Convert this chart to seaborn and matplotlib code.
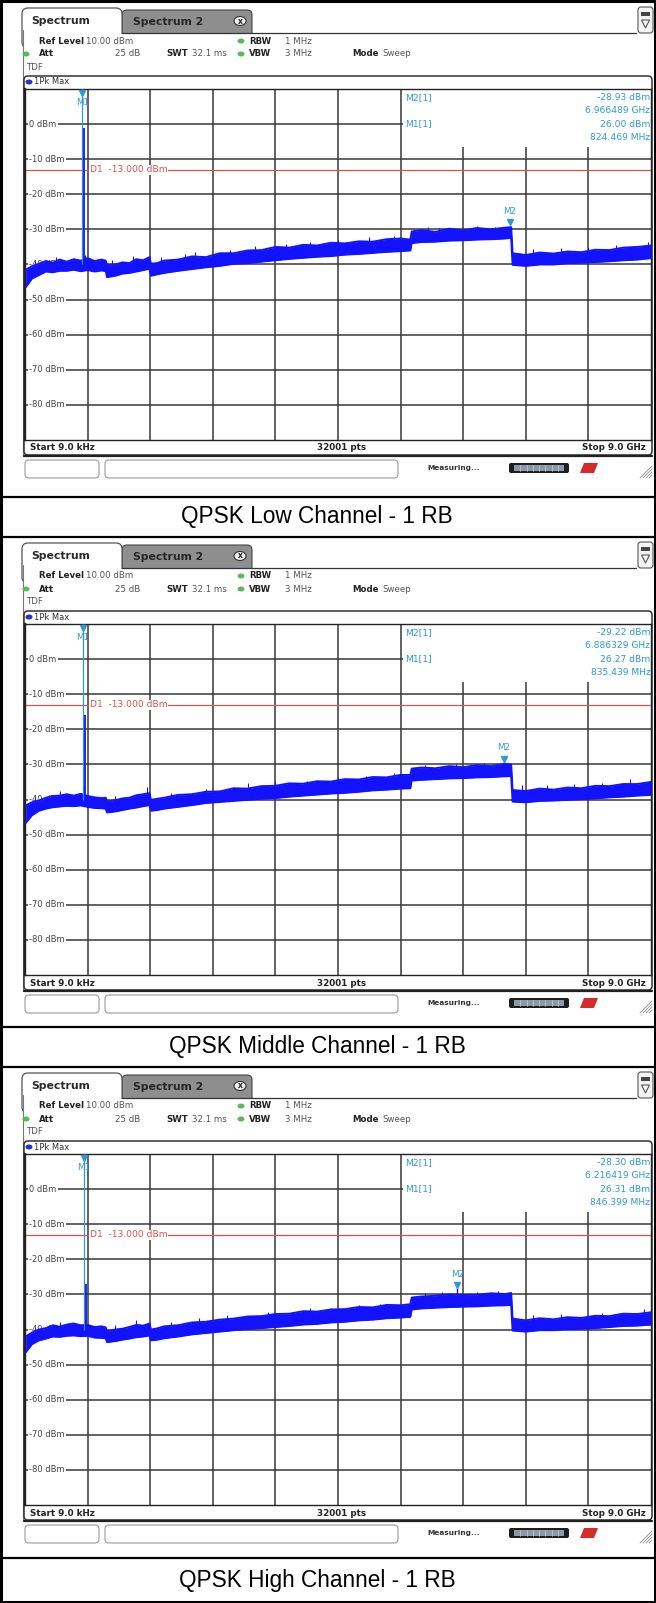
"""
Spurious emission screenshots (R&S style) for QPSK 1 RB, low / middle / high channel.
Saves out.png (656 x 1603 px).
"""
import matplotlib
matplotlib.use("Agg")
import matplotlib.pyplot as plt
from matplotlib.patches import FancyBboxPatch, Rectangle, Ellipse, Polygon
import pandas as pd
import seaborn as sns

sns.set_style("white")
plt.rcParams["font.family"] = ["DejaVu Sans"]

W, H = 656, 1603
PANEL_TOP = [0, 535, 1065]                        # origin of each screenshot
CAPTION_BAND = [(497, 537), (1027, 1067), (1558, 1602)]
GRAT_L, GRAT_R, GRAT_TOP, GRAT_BOT = 25, 651, 89, 440

TRACE_BLUE = "#1212ff"
MARKER_BLUE = "#2e9ad6"
LIMIT_RED = "#d9544f"
GRID = "#383838"

# ---- data ----
CAPTIONS = ["QPSK Low Channel - 1 RB", "QPSK Middle Channel - 1 RB", "QPSK High Channel - 1 RB"]
LEVEL_TICKS = [0, -10, -20, -30, -40, -50, -60, -70, -80]
D1_LIMIT = -13.0

FREQ_GHZ = [0.009, 0.1, 0.2, 0.3, 0.4, 0.5, 0.6, 0.7, 0.8, 0.9, 1.0, 1.1,
            1.16, 1.18, 1.3, 1.4, 1.5, 1.6, 1.7, 1.79, 1.81, 1.9, 2.0,
            2.2, 2.4, 2.6, 2.8, 3.0, 3.2, 3.4, 3.6, 3.8, 4.0, 4.2, 4.4, 4.6, 4.8, 5.0, 5.2, 5.4,
            5.54, 5.56, 5.7, 5.9, 6.1, 6.3, 6.5, 6.7, 6.9, 6.99, 7.01,
            7.2, 7.4, 7.6, 7.8, 8.0, 8.2, 8.4, 8.6, 8.8, 9.0]

LOW_HI = [-41.5, -40.5, -39.8, -39.0, -39.5, -38.6, -39.2, -38.5, -38.9, -38.2, -39.0, -38.6,
          -38.9, -40.2, -40.0, -39.4, -39.6, -38.5, -38.8, -37.9, -39.8, -39.6, -38.9,
          -38.6, -37.7, -37.9, -36.8, -36.8, -36.0, -35.9, -35.0, -35.2, -34.4, -34.6, -33.8, -34.0, -33.4, -33.5, -32.8, -32.6,
          -32.9, -30.6, -30.2, -30.7, -29.8, -30.3, -29.6, -30.0, -29.5, -29.4, -36.8,
          -37.3, -36.6, -36.9, -36.3, -36.5, -35.8, -35.9, -35.2, -35.0, -34.6]
LOW_LO = [-46.5, -44.0, -43.0, -42.0, -42.2, -41.8, -41.8, -41.5, -41.9, -41.6, -42.0, -41.7,
          -41.9, -43.6, -43.2, -42.6, -42.4, -42.0, -41.6, -41.2, -43.2, -42.8, -42.4,
          -41.8, -41.3, -40.8, -40.4, -39.8, -39.6, -39.2, -38.8, -38.4, -38.1, -37.8, -37.6, -37.2, -37.0, -36.7, -36.4, -36.2,
          -36.0, -33.9, -33.6, -33.5, -33.2, -33.1, -32.9, -32.8, -32.6, -32.4, -40.1,
          -40.4, -40.0, -40.0, -39.6, -39.5, -39.3, -39.1, -38.8, -38.6, -38.2]

MID_HI = [-41.7, -40.8, -40.3, -39.5, -39.0, -38.9, -38.5, -38.9, -38.4, -39.0, -39.4, -39.6,
          -39.5, -40.6, -40.2, -39.7, -39.5, -38.8, -38.5, -38.2, -40.1, -39.8, -39.5,
          -38.7, -38.5, -37.8, -37.7, -36.8, -36.9, -36.2, -36.1, -35.4, -35.5, -34.8, -34.9, -34.2, -34.3, -33.6, -33.7, -33.0,
          -33.0, -31.2, -30.9, -31.1, -30.5, -30.8, -30.2, -30.5, -29.9, -30.0, -37.3,
          -37.6, -36.9, -37.2, -36.6, -36.8, -36.1, -36.2, -35.6, -35.6, -35.0]
MID_LO = [-46.7, -44.5, -43.2, -42.6, -42.2, -42.0, -41.8, -41.9, -41.7, -42.1, -42.4, -42.5,
          -42.6, -43.7, -43.4, -43.0, -42.6, -42.3, -41.9, -41.6, -43.2, -43.0, -42.6,
          -42.1, -41.6, -41.0, -40.7, -40.4, -40.1, -39.8, -39.6, -39.2, -38.9, -38.6, -38.3, -38.1, -37.8, -37.4, -37.2, -36.9,
          -36.8, -34.6, -34.4, -34.2, -34.0, -33.9, -33.7, -33.6, -33.4, -33.3, -40.6,
          -40.8, -40.4, -40.3, -40.1, -39.9, -39.7, -39.4, -39.2, -38.9, -38.7]

HIGH_HI = [-42.0, -40.9, -40.0, -39.6, -38.8, -39.2, -38.6, -38.3, -38.8, -38.7, -39.3, -39.1,
           -39.4, -40.5, -40.0, -39.8, -39.3, -38.7, -38.9, -38.3, -40.0, -39.7, -39.1,
           -38.8, -38.0, -37.8, -37.2, -36.9, -36.3, -36.2, -35.6, -35.5, -34.8, -34.9, -34.3, -34.2, -33.6, -33.7, -33.0, -33.1,
           -32.8, -30.9, -30.6, -30.4, -30.0, -30.2, -30.1, -29.7, -29.9, -29.6, -36.9,
           -37.4, -36.8, -37.1, -36.5, -36.7, -36.1, -36.2, -35.5, -35.6, -35.1]
HIGH_LO = [-46.5, -44.2, -43.1, -42.6, -42.0, -42.1, -41.8, -41.7, -41.9, -41.8, -42.3, -42.4,
           -42.5, -43.6, -43.3, -42.9, -42.6, -42.2, -42.0, -41.7, -43.1, -42.9, -42.5,
           -42.0, -41.4, -41.0, -40.6, -40.2, -39.9, -39.6, -39.3, -39.0, -38.6, -38.4, -38.0, -37.8, -37.4, -37.2, -36.8, -36.6,
           -36.4, -34.3, -34.0, -33.8, -33.6, -33.5, -33.4, -33.2, -33.1, -33.0, -40.3,
           -40.6, -40.2, -40.2, -39.9, -39.8, -39.6, -39.3, -39.0, -38.9, -38.6]

# single noise spikes poking above the band
LOW_SPIKE_F = [0.15, 0.45, 0.86, 1.25, 1.55, 1.95, 2.3, 2.45, 2.95, 3.3, 3.75, 4.1,
               4.5, 4.95, 5.3, 5.8, 5.95, 6.5, 6.75, 7.3, 7.7, 8.1, 8.5, 8.95]
LOW_SPIKE_DB = [-39.0, -37.8, -37.2, -38.6, -37.5, -38.0, -36.9, -36.3, -35.8, -34.6, -34.2, -33.5,
                -33.0, -32.2, -31.9, -29.2, -29.6, -29.0, -29.3, -35.6, -35.2, -35.0, -34.5, -33.6]
MID_SPIKE_F = [0.15, 0.5, 0.85, 1.3, 1.75, 2.1, 2.6, 3.2, 3.6, 4.05, 4.5, 4.9,
               5.3, 5.75, 6.2, 6.6, 7.15, 7.5, 7.9, 8.3, 8.7]
MID_SPIKE_DB = [-39.3, -37.6, -36.0, -38.9, -36.4, -38.2, -36.9, -35.3, -35.0, -34.6, -33.6, -33.4,
                -32.4, -30.2, -29.8, -29.5, -36.0, -35.8, -35.6, -35.2, -34.3]
HIGH_SPIKE_F = [0.15, 0.5, 0.86, 1.3, 1.6, 2.1, 2.5, 2.9, 3.5, 4.1, 4.4, 4.8,
                5.1, 5.75, 6.0, 6.5, 6.8, 7.3, 7.7, 8.3, 8.9]
HIGH_SPIKE_DB = [-39.5, -37.8, -37.0, -38.7, -37.3, -38.0, -36.6, -35.9, -35.1, -33.9, -33.8, -33.0,
                 -32.6, -29.7, -29.4, -29.3, -29.1, -35.9, -35.5, -35.2, -34.2]

# markers
M1_GHZ = [0.824469, 0.835439, 0.846399]
M1_DBM = [26.00, 26.27, 26.31]
M1_VISIBLE_TOP = [-1.0, -16.0, -27.0]
M2_GHZ = [6.966489, 6.886329, 6.216419]
M2_DBM = [-28.93, -29.22, -28.30]
M1_TEXT = ["824.469 MHz", "835.439 MHz", "846.399 MHz"]
M2_TEXT = ["6.966489 GHz", "6.886329 GHz", "6.216419 GHz"]

PANELS = [
    (LOW_HI, LOW_LO, LOW_SPIKE_F, LOW_SPIKE_DB),
    (MID_HI, MID_LO, MID_SPIKE_F, MID_SPIKE_DB),
    (HIGH_HI, HIGH_LO, HIGH_SPIKE_F, HIGH_SPIKE_DB),
]


def txt(bg, x, y, s, bold=False, ha="left", color=None, size=6.2, **kw):
    bg.text(x, y, s, ha=ha, va="center", fontsize=size,
            fontweight="bold" if bold else "normal",
            color=color or ("#222222" if bold else "#555555"), zorder=6, **kw)


def dot(bg, x, y, color):
    bg.add_patch(Ellipse((x, y), 7, 5, fc=color, ec="none", zorder=6))


def draw_chrome(bg, oy):
    # tabs
    bg.add_patch(FancyBboxPatch((122, oy + 10), 130, 30, boxstyle="round,pad=0,rounding_size=5",
                                fc="#8e8e8e", ec="#444444", lw=0.8, zorder=1))
    bg.add_patch(FancyBboxPatch((22, oy + 8), 100, 40, boxstyle="round,pad=0,rounding_size=6",
                                fc="white", ec="#555555", lw=0.9, zorder=2))
    bg.add_patch(Rectangle((22.8, oy + 33.5), 240, 17, fc="white", ec="none", zorder=2.1))
    bg.plot([122, 636], [oy + 33, oy + 33], color="#333333", lw=0.9, zorder=2.2)
    bg.plot([22.5, 22.5], [oy + 30, oy + 456], color="#777777", lw=0.8, zorder=2.2)
    txt(bg, 31, oy + 21, "Spectrum", bold=True, size=7.8, color="#2a2a2a")
    txt(bg, 133, oy + 22, "Spectrum 2", bold=True, size=7.8, color="#262626")
    bg.add_patch(Ellipse((240, oy + 21), 12, 9, fc="#eeeeee", ec="#333333", lw=0.8, zorder=5))
    txt(bg, 240, oy + 21, "x", bold=True, ha="center", size=5.5, color="#222222")
    # menu icon, right
    bg.add_patch(FancyBboxPatch((638, oy + 7), 15, 26, boxstyle="round,pad=0,rounding_size=3",
                                fc="#f4f4f4", ec="#555555", lw=0.8, zorder=2))
    bg.add_patch(Rectangle((641, oy + 12), 9, 4, fc="#444444", ec="none", zorder=3))
    bg.add_patch(Polygon([(641.5, oy + 20), (649.5, oy + 20), (645.5, oy + 28)], closed=True,
                         fc="none", ec="#444444", lw=0.7, zorder=3))

    # header rows
    txt(bg, 39, oy + 41, "Ref Level", bold=True)
    txt(bg, 86, oy + 41, "10.00 dBm")
    dot(bg, 241, oy + 41, "#5cb85c")
    txt(bg, 249, oy + 41, "RBW", bold=True)
    txt(bg, 285, oy + 41, "1 MHz")
    dot(bg, 26, oy + 54, "#5cb85c")
    txt(bg, 39, oy + 54, "Att", bold=True)
    txt(bg, 140, oy + 54, "25 dB", ha="right")
    txt(bg, 166, oy + 54, "SWT", bold=True)
    txt(bg, 192, oy + 54, "32.1 ms")
    dot(bg, 241, oy + 54, "#5cb85c")
    txt(bg, 249, oy + 54, "VBW", bold=True)
    txt(bg, 285, oy + 54, "3 MHz")
    txt(bg, 352, oy + 54, "Mode", bold=True)
    txt(bg, 382, oy + 54, "Sweep")
    txt(bg, 27, oy + 67, "TDF")

    # trace window
    bg.add_patch(FancyBboxPatch((24, oy + 76), 628, 379, boxstyle="round,pad=0,rounding_size=4",
                                fc="white", ec="#333333", lw=1.1, zorder=3))
    dot(bg, 29, oy + 82, "#2233cc")
    txt(bg, 34, oy + 82, "1Pk Max", color="#333333", size=6.0)
    bg.plot([24, 652], [oy + 455.5, oy + 455.5], color="#222222", lw=1.6, zorder=4)
    txt(bg, 30, oy + 448, "Start 9.0 kHz", bold=True, size=6.3)
    txt(bg, 342, oy + 448, "32001 pts", bold=True, ha="center", size=6.3)
    txt(bg, 646, oy + 448, "Stop 9.0 GHz", bold=True, ha="right", size=6.3)

    # status bar
    bg.add_patch(FancyBboxPatch((25, oy + 460), 74, 18, boxstyle="round,pad=0,rounding_size=4",
                                fc="white", ec="#999999", lw=0.8, zorder=3))
    bg.add_patch(FancyBboxPatch((105, oy + 460), 293, 18, boxstyle="round,pad=0,rounding_size=4",
                                fc="white", ec="#999999", lw=0.8, zorder=3))
    txt(bg, 427, oy + 468, "Measuring...", bold=True, size=5.3, color="#333333")
    bg.add_patch(FancyBboxPatch((509, oy + 463), 60, 10, boxstyle="round,pad=0,rounding_size=2",
                                fc="#1e1e1e", ec="none", zorder=3))
    bg.add_patch(Rectangle((514, oy + 465), 50, 6, fc="#8d99a6", ec="none", zorder=4))
    for k in range(1, 8):
        bg.plot([514 + k * 6.25] * 2, [oy + 465, oy + 471], color="#c8d0d8", lw=0.5, zorder=5)
    bg.add_patch(Polygon([(580, oy + 473), (584, oy + 463), (598, oy + 463), (594, oy + 473)],
                         closed=True, fc="#d42a2a", ec="none", zorder=4))
    for k in range(4):
        bg.plot([640 + 3 * k, 652], [oy + 478, oy + 466 + 3 * k], color="#8a8a8a", lw=0.6, zorder=4)


def draw_trace(fig, oy, i):
    hi, lo, spike_f, spike_db = PANELS[i]
    ax = fig.add_axes([GRAT_L / W, 1 - (oy + GRAT_BOT) / H,
                       (GRAT_R - GRAT_L) / W, (GRAT_BOT - GRAT_TOP) / H])
    ax.set_xlim(0, 9.0)
    ax.set_ylim(-90, 10)
    ax.set_facecolor("white")

    for k in range(1, 10):
        ax.axvline(k * 0.9, color=GRID, lw=1.1, zorder=1)
    for lvl in LEVEL_TICKS:
        ax.axhline(lvl, color=GRID, lw=1.1, zorder=1)
        ax.text(0.06, lvl, f"{lvl} dBm", ha="left", va="center", fontsize=6.0, color="#444444",
                bbox=dict(fc="white", ec="none", pad=0.8), zorder=2)

    # limit line D1
    ax.axhline(D1_LIMIT, color=LIMIT_RED, lw=0.9, zorder=2.2)
    ax.text(0.93, D1_LIMIT, "D1  -13.000 dBm", ha="left", va="center", fontsize=6.6, color=LIMIT_RED,
            bbox=dict(fc="white", ec="none", pad=0.4), zorder=2.3)

    # marker info box (covers grid)
    ax.add_patch(Rectangle((5.43, -6.6), 9.0 - 5.43, 16.6, fc="white", ec="none", zorder=2.4))
    rows = [7.6, 3.8, 0.0, -3.8]
    ax.text(5.47, rows[0], "M2[1]", ha="left", va="center", fontsize=6.6, color=MARKER_BLUE, zorder=4)
    ax.text(5.47, rows[2], "M1[1]", ha="left", va="center", fontsize=6.6, color=MARKER_BLUE, zorder=4)
    right = [f"{M2_DBM[i]:.2f} dBm", M2_TEXT[i], f"{M1_DBM[i]:.2f} dBm", M1_TEXT[i]]
    for y, s in zip(rows, right):
        ax.text(8.99, y, s, ha="right", va="center", fontsize=6.6, color=MARKER_BLUE, zorder=4)

    # trace band
    df = pd.DataFrame({"f": FREQ_GHZ, "hi": hi, "lo": lo})
    ax.fill_between(df["f"], df["lo"], df["hi"], color=TRACE_BLUE, lw=0, zorder=3)
    sns.lineplot(data=df, x="f", y="hi", ax=ax, color=TRACE_BLUE, lw=1.4, zorder=3)
    sns.lineplot(data=df, x="f", y="lo", ax=ax, color=TRACE_BLUE, lw=1.4, zorder=3)
    ax.vlines(spike_f, [d - 3 for d in spike_db], spike_db, color=TRACE_BLUE, lw=0.8, zorder=3)

    # M1: carrier, off-scale above ref level
    ax.vlines(M1_GHZ[i], -40, 10, color=MARKER_BLUE, lw=0.9, zorder=3.1)
    ax.vlines(M1_GHZ[i] + 0.03, -40, M1_VISIBLE_TOP[i], color=TRACE_BLUE, lw=1.3, zorder=3.2)
    ax.plot([M1_GHZ[i]], [9.0], marker="v", ms=4, color=MARKER_BLUE, zorder=5)
    ax.text(M1_GHZ[i], 6.2, "M1", ha="center", va="center", fontsize=6.3, color=MARKER_BLUE, zorder=5)

    # M2: highest spur
    ax.vlines(M2_GHZ[i], M2_DBM[i] - 3.5, M2_DBM[i], color=TRACE_BLUE, lw=1.0, zorder=3)
    ax.plot([M2_GHZ[i]], [M2_DBM[i] + 0.9], marker="v", ms=4, color=MARKER_BLUE, zorder=5)
    ax.text(M2_GHZ[i], M2_DBM[i] + 4.0, "M2", ha="center", va="center", fontsize=6.3,
            color=MARKER_BLUE, zorder=5)

    ax.set_xticks([])
    ax.set_yticks([])
    ax.set_xlabel("")
    ax.set_ylabel("")
    for side, sp in ax.spines.items():
        sp.set_color("#222222")
        sp.set_linewidth(1.7 if side == "left" else 1.0)
        sp.set_visible(True)
    return ax


def main() -> None:
    fig = plt.figure(figsize=(W / 100, H / 100), dpi=100)
    bg = fig.add_axes([0, 0, 1, 1])
    bg.set_xlim(0, W)
    bg.set_ylim(H, 0)
    bg.axis("off")

    for i, oy in enumerate(PANEL_TOP):
        draw_chrome(bg, oy)
        draw_trace(fig, oy, i)
        # caption band
        top, bottom = CAPTION_BAND[i]
        bg.plot([0, W], [top, top], color="black", lw=1.6, zorder=7)
        if i < 2:
            bg.plot([0, W], [bottom, bottom], color="black", lw=1.6, zorder=7)
        bg.text(317, (top + bottom) / 2, CAPTIONS[i], ha="center", va="center", fontsize=16.3,
                family=["Liberation Sans", "DejaVu Sans"], color="black", zorder=7)

    bg.add_patch(Rectangle((1, 1), W - 2, H - 2, fc="none", ec="black", lw=2.2, zorder=8))

    fig.savefig("out.png", dpi=100)
    plt.close(fig)


if __name__ == "__main__":
    main()
